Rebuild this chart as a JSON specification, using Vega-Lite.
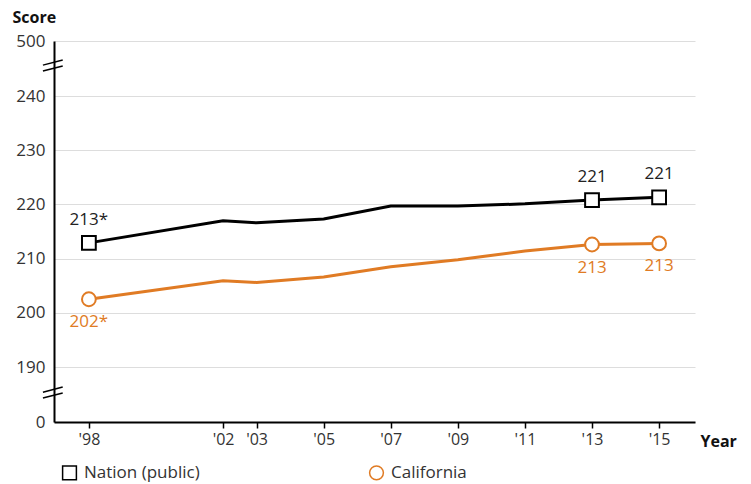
{
  "$schema": "https://vega.github.io/schema/vega-lite/v6.json",
  "width": 641,
  "height": 381,
  "autosize": {"type": "none"},
  "padding": {"left": 54, "top": 41, "right": 56, "bottom": 62},
  "config": {"font": "Open Sans", "view": {"stroke": null}},
  "data": {
    "values": [
      {"year": 1998, "score": 212.9, "series": "Nation (public)", "label": "213*"},
      {"year": 2002, "score": 217.0, "series": "Nation (public)", "label": ""},
      {"year": 2003, "score": 216.6, "series": "Nation (public)", "label": ""},
      {"year": 2005, "score": 217.3, "series": "Nation (public)", "label": ""},
      {"year": 2007, "score": 219.7, "series": "Nation (public)", "label": ""},
      {"year": 2009, "score": 219.7, "series": "Nation (public)", "label": ""},
      {"year": 2011, "score": 220.1, "series": "Nation (public)", "label": ""},
      {"year": 2013, "score": 220.8, "series": "Nation (public)", "label": "221"},
      {"year": 2015, "score": 221.3, "series": "Nation (public)", "label": "221"},
      {"year": 1998, "score": 202.5, "series": "California", "label": "202*"},
      {"year": 2002, "score": 205.9, "series": "California", "label": ""},
      {"year": 2003, "score": 205.6, "series": "California", "label": ""},
      {"year": 2005, "score": 206.6, "series": "California", "label": ""},
      {"year": 2007, "score": 208.5, "series": "California", "label": ""},
      {"year": 2009, "score": 209.8, "series": "California", "label": ""},
      {"year": 2011, "score": 211.4, "series": "California", "label": ""},
      {"year": 2013, "score": 212.6, "series": "California", "label": "213"},
      {"year": 2015, "score": 212.8, "series": "California", "label": "213"}
    ]
  },
  "encoding": {
    "x": {
      "field": "year",
      "type": "quantitative",
      "title": "Year",
      "scale": {"domain": [1996.96, 2016.07], "nice": false, "zero": false},
      "axis": {
        "values": [1998, 2002, 2003, 2005, 2007, 2009, 2011, 2013, 2015],
        "format": "d",
        "labelExpr": "\"'\" + substring(datum.label, 2)",
        "grid": false,
        "domainColor": "#000000",
        "domainWidth": 2,
        "tickColor": "#000000",
        "tickWidth": 1.5,
        "tickSize": 6,
        "labelPadding": 3,
        "labelFontSize": 16,
        "labelColor": "#333333",
        "titleFontSize": 16,
        "titleFontWeight": "bold",
        "titleColor": "#111111",
        "titleX": 646,
        "titleY": 19,
        "titleAlign": "left",
        "titleBaseline": "middle"
      }
    },
    "y": {
      "field": "score",
      "type": "quantitative",
      "title": "Score",
      "scale": {"domain": [0, 190, 240, 500], "range": [381, 326, 55, 0], "nice": false, "zero": false},
      "axis": {
        "values": [0, 190, 200, 210, 220, 230, 240, 500],
        "grid": true,
        "gridColor": "#dddddd",
        "gridWidth": 1,
        "domainColor": "#000000",
        "domainWidth": 2,
        "ticks": false,
        "labelPadding": 9,
        "labelFontSize": 17,
        "labelColor": "#333333",
        "titleFontSize": 16,
        "titleFontWeight": "bold",
        "titleColor": "#111111",
        "titleAngle": 0,
        "titleX": -42,
        "titleY": -24,
        "titleAlign": "left",
        "titleBaseline": "middle"
      }
    }
  },
  "layer": [
    {
      "transform": [{"filter": "datum.series === 'Nation (public)'"}],
      "mark": {"type": "line", "strokeWidth": 3, "color": "#000000"}
    },
    {
      "transform": [{"filter": "datum.series === 'California'"}],
      "mark": {"type": "line", "strokeWidth": 3, "color": "#E07B24"}
    },
    {
      "transform": [{"filter": "datum.label !== ''"}],
      "mark": {"type": "point", "filled": false, "fill": "white", "fillOpacity": 1, "strokeWidth": 2, "size": 190, "opacity": 1},
      "encoding": {
        "color": {
          "field": "series",
          "type": "nominal",
          "scale": {"domain": ["Nation (public)", "California"], "range": ["#000000", "#E07B24"]},
          "legend": {
            "title": null,
            "orient": "none",
            "direction": "horizontal",
            "legendX": 7,
            "legendY": 423,
            "columnPadding": 166,
            "labelFontSize": 17,
            "labelColor": "#333333",
            "symbolSize": 190,
            "symbolStrokeWidth": 1.5,
            "labelOffset": 6
          }
        },
        "shape": {
          "field": "series",
          "type": "nominal",
          "scale": {"domain": ["Nation (public)", "California"], "range": ["square", "circle"]},
          "legend": {
            "title": null,
            "orient": "none",
            "direction": "horizontal",
            "legendX": 7,
            "legendY": 423,
            "columnPadding": 166,
            "labelFontSize": 17,
            "labelColor": "#333333",
            "symbolSize": 190,
            "symbolStrokeWidth": 1.5,
            "labelOffset": 6
          }
        }
      }
    },
    {
      "transform": [{"filter": "datum.series === 'Nation (public)' && datum.label !== ''"}],
      "mark": {"type": "text", "dy": -23, "fontSize": 17, "color": "#222222", "baseline": "middle"},
      "encoding": {"text": {"field": "label"}}
    },
    {
      "transform": [{"filter": "datum.series === 'California' && datum.label !== ''"}],
      "mark": {"type": "text", "dy": 23, "fontSize": 17, "color": "#E07B24", "baseline": "middle"},
      "encoding": {"text": {"field": "label"}}
    },
    {
      "data": {
        "values": [
          {"bx": 1996.63, "bx2": 1997.22, "by": 386, "by2": 410},
          {"bx": 1996.63, "bx2": 1997.22, "by": 358, "by2": 382},
          {"bx": 1996.63, "bx2": 1997.22, "by": 103, "by2": 121},
          {"bx": 1996.63, "bx2": 1997.22, "by": 83, "by2": 100}
        ]
      },
      "mark": {"type": "rule", "strokeWidth": 1.5, "color": "#000000"},
      "encoding": {
        "x": {"field": "bx", "type": "quantitative", "title": "Year"},
        "x2": {"field": "bx2"},
        "y": {"field": "by", "type": "quantitative", "title": "Score"},
        "y2": {"field": "by2"}
      }
    }
  ]
}
